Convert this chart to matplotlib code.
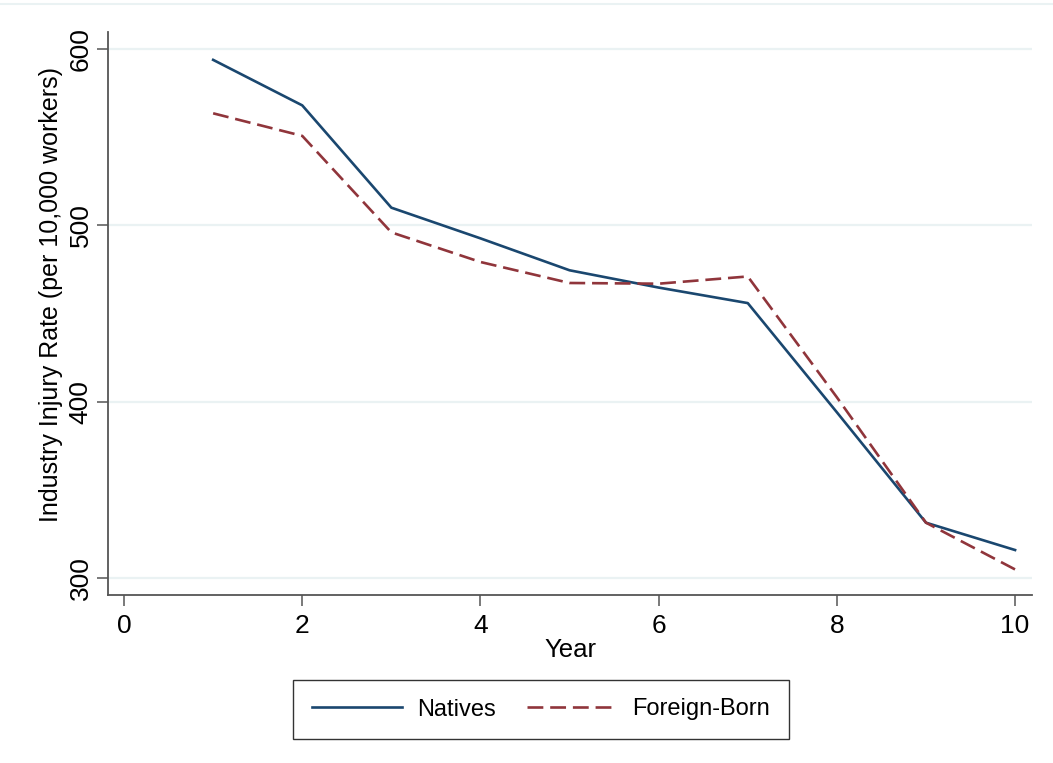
import matplotlib
matplotlib.use("Agg")
import matplotlib.pyplot as plt
from matplotlib.lines import Line2D

# values
years = [1, 2, 3, 4, 5, 6, 7, 8, 9, 10]
natives = [593.8, 568.0, 510.0, 492.6, 474.5, 464.7, 455.9, 394.0, 331.4, 315.9]
foreign_born = [563.5, 550.7, 496.0, 479.2, 467.3, 466.9, 471.0, 402.5, 331.4, 304.9]

x_ticks = [0, 2, 4, 6, 8, 10]
y_ticks = [300, 400, 500, 600]

NAVY = "#1a476f"
MAROON = "#90353b"
GRID = "#eaf2f3"

plt.rcParams["font.family"] = ["Liberation Sans", "DejaVu Sans"]

fig = plt.figure(figsize=(10.53, 7.63), dpi=100)
ax = fig.add_axes([108 / 1053, 1 - 595 / 763, (1032 - 108) / 1053, (595 - 32) / 763])

# faint outer border line at the top of the graph region
fig.add_artist(Line2D([0, 1], [1 - 4 / 763, 1 - 4 / 763], color=GRID, lw=1.5,
                      transform=fig.transFigure))

for yv in y_ticks:
    ax.axhline(yv, color=GRID, lw=1.6, zorder=0)

ax.plot(years, natives, color=NAVY, lw=1.9, label="Natives", zorder=3)
ax.plot(years, foreign_born, color=MAROON, lw=1.9, dashes=(6, 2.6),
        label="Foreign-Born", zorder=3)

ax.set_xlim(-0.18, 10.19)
ax.set_ylim(290.4, 609.6)
ax.set_xticks(x_ticks)
ax.set_yticks(y_ticks)

for side in ("top", "right"):
    ax.spines[side].set_visible(False)
for side in ("left", "bottom"):
    ax.spines[side].set_color("#555555")
    ax.spines[side].set_linewidth(1.3)

ax.tick_params(axis="both", direction="out", length=8, width=1.1, color="#555555",
               labelsize=19)
ax.tick_params(axis="x", pad=6)
ax.tick_params(axis="y", pad=3)
for lbl in ax.get_yticklabels():
    lbl.set_rotation(90)
    lbl.set_va("center")

ax.set_xlabel("Year", fontsize=18.5, labelpad=0)
ax.set_ylabel("Industry Injury Rate (per 10,000 workers)", fontsize=18, labelpad=3)
ax.yaxis.set_label_coords(-0.049, 0.533)

leg = fig.legend(loc="center", bbox_to_anchor=(541 / 1053, 1 - 709.5 / 763),
                 ncol=2, fontsize=17, frameon=True, fancybox=False,
                 handlelength=3.8, handletextpad=0.65, columnspacing=1.3,
                 borderpad=0.8, borderaxespad=0)
leg.get_frame().set_edgecolor("black")
leg.get_frame().set_linewidth(1.0)

fig.savefig("out.png", dpi=100, facecolor="white")
